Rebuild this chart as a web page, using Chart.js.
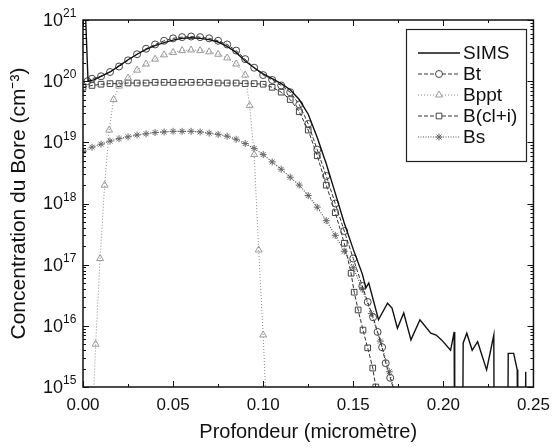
<!DOCTYPE html>
<html>
<head>
<meta charset="utf-8">
<script src="https://cdn.jsdelivr.net/npm/chart.js@4.4.0/dist/chart.umd.min.js"></script>
<style>
html, body { margin: 0; padding: 0; background: #fff; }
</style>
</head>
<body>
<canvas id="boreChart" width="558" height="448"></canvas>
<script>
// profondeur en micrometre, concentration en log10 (cm-3)
var simsDepth = [0.0015, 0.0028, 0.006, 0.01, 0.015, 0.02, 0.025, 0.03, 0.035, 0.04, 0.045, 0.05, 0.055, 0.06, 0.065, 0.07, 0.075, 0.08, 0.085, 0.09, 0.095, 0.1, 0.105, 0.11, 0.115, 0.12, 0.125, 0.13, 0.135, 0.14, 0.145, 0.15, 0.155, 0.157, 0.1586, 0.164, 0.169, 0.1715, 0.1745, 0.178, 0.182, 0.187, 0.193, 0.196, 0.199, 0.204, 0.206, 0.2063, 0.2105, 0.211, 0.213, 0.216, 0.219, 0.224, 0.228, 0.2283, 0.2355, 0.236, 0.239, 0.241, 0.2413, 0.2453, 0.2457, 0.246];
var simsLog = [21.0, 20.0, 20.02, 20.08, 20.15, 20.25, 20.35, 20.44, 20.52, 20.58, 20.63, 20.67, 20.7, 20.71, 20.7, 20.68, 20.64, 20.57, 20.47, 20.33, 20.22, 20.12, 20.04, 19.96, 19.86, 19.7, 19.46, 19.08, 18.65, 18.17, 17.68, 17.25, 16.85, 16.62, 16.7, 16.1, 16.37, 16.29, 15.96, 16.21, 15.77, 16.1, 15.88, 15.85, 15.77, 15.6, 15.9, 13, 13, 15.72, 15.88, 15.6, 15.74, 15.28, 15.85, 13, 13, 15.55, 15.55, 15.28, 13, 13, 15.25, 13];

var btDepth = [0.0025, 0.005, 0.01, 0.015, 0.02, 0.025, 0.03, 0.035, 0.04, 0.045, 0.05, 0.055, 0.06, 0.065, 0.07, 0.075, 0.08, 0.085, 0.09, 0.095, 0.1, 0.105, 0.11, 0.115, 0.12, 0.125, 0.13, 0.135, 0.14, 0.145, 0.15, 0.155, 0.158, 0.161, 0.1635, 0.166, 0.168, 0.1705, 0.173];
var btLog = [20.0, 20.04, 20.08, 20.15, 20.24, 20.34, 20.44, 20.53, 20.6, 20.66, 20.7, 20.72, 20.73, 20.72, 20.7, 20.66, 20.6, 20.5, 20.36, 20.22, 20.1, 20.02, 19.93, 19.82, 19.62, 19.3, 18.88, 18.45, 18.0, 17.55, 17.1, 16.65, 16.39, 16.14, 15.9, 15.65, 15.39, 15.15, 14.9];

var bpptDepth = [0.0055, 0.007, 0.0095, 0.012, 0.0145, 0.017, 0.02, 0.025, 0.03, 0.035, 0.04, 0.045, 0.05, 0.055, 0.06, 0.065, 0.07, 0.075, 0.08, 0.085, 0.09, 0.0925, 0.095, 0.0975, 0.1, 0.1015];
var bpptLog = [14.6, 15.7, 17.1, 18.3, 19.2, 19.7, 19.92, 20.05, 20.18, 20.28, 20.36, 20.43, 20.47, 20.5, 20.51, 20.5, 20.48, 20.44, 20.38, 20.28, 20.1, 19.6, 18.8, 17.24, 15.85, 14.8];

var bclDepth = [0, 0.005, 0.01, 0.015, 0.02, 0.025, 0.03, 0.035, 0.04, 0.045, 0.05, 0.055, 0.06, 0.065, 0.07, 0.075, 0.08, 0.085, 0.09, 0.095, 0.1, 0.105, 0.11, 0.115, 0.12, 0.125, 0.13, 0.135, 0.14, 0.145, 0.1488, 0.1505, 0.1527, 0.1554, 0.158, 0.1608, 0.1625, 0.164];
var bclLog = [19.9, 19.93, 19.95, 19.96, 19.96, 19.97, 19.97, 19.97, 19.98, 19.98, 19.98, 19.98, 19.98, 19.98, 19.98, 19.97, 19.97, 19.97, 19.96, 19.96, 19.95, 19.9, 19.82, 19.7, 19.5, 19.2, 18.78, 18.3, 17.85, 17.35, 16.86, 16.55, 16.26, 15.93, 15.64, 15.31, 15.0, 14.7];

var bsDepth = [0, 0.005, 0.01, 0.015, 0.02, 0.025, 0.03, 0.035, 0.04, 0.045, 0.05, 0.055, 0.06, 0.065, 0.07, 0.075, 0.08, 0.085, 0.09, 0.095, 0.1, 0.105, 0.11, 0.115, 0.12, 0.125, 0.13, 0.135, 0.14, 0.145, 0.15, 0.155, 0.16, 0.165, 0.17, 0.175];
var bsLog = [18.85, 18.92, 18.97, 19.02, 19.06, 19.09, 19.12, 19.14, 19.16, 19.17, 19.18, 19.18, 19.18, 19.17, 19.15, 19.13, 19.1, 19.05, 18.98, 18.9, 18.8, 18.68, 18.56, 18.43, 18.3, 18.13, 17.94, 17.72, 17.48, 17.22, 16.95, 16.6, 16.2, 15.75, 15.25, 14.7];

var xTickValues = [0, 0.05, 0.1, 0.15, 0.2, 0.25];
var xMinorValues = [0.025, 0.075, 0.125, 0.175, 0.225];
var yDecades = [15, 16, 17, 18, 19, 20, 21];

var FONT = '"Liberation Sans", Arial, Helvetica, sans-serif';

function toPoints(depths, logs) {
	return depths.map(function(d, i) { return { x: d, y: Math.pow(10, logs[i]) }; });
}

// petits traits vers l'interieur sur les 4 cotes + cadre
var innerTicks = {
	id: 'innerTicks',
	afterDraw: function(chart) {
		var a = chart.chartArea, xs = chart.scales.x, ys = chart.scales.y, ctx = chart.ctx;
		ctx.save();
		ctx.strokeStyle = '#111';
		ctx.lineWidth = 1;
		ctx.beginPath();
		function xt(v, len) {
			var px = Math.round(xs.getPixelForValue(v)) + 0.5;
			ctx.moveTo(px, a.bottom); ctx.lineTo(px, a.bottom - len);
			ctx.moveTo(px, a.top); ctx.lineTo(px, a.top + len);
		}
		function yt(v, len) {
			var py = Math.round(ys.getPixelForValue(v)) + 0.5;
			ctx.moveTo(a.left, py); ctx.lineTo(a.left + len, py);
			ctx.moveTo(a.right, py); ctx.lineTo(a.right - len, py);
		}
		xTickValues.forEach(function(v) { xt(v, 6); });
		xMinorValues.forEach(function(v) { xt(v, 3); });
		yDecades.forEach(function(e, i) {
			yt(Math.pow(10, e), 6);
			if (i < yDecades.length - 1) {
				for (var m = 2; m < 10; m++) yt(m * Math.pow(10, e), 3);
			}
		});
		ctx.stroke();
		ctx.lineWidth = 1.5;
		ctx.strokeRect(a.left, a.top, a.right - a.left, a.bottom - a.top);
		ctx.restore();
	}
};

// etiquettes 10^n de l'axe y, exposant en petit
var powerLabels = {
	id: 'powerLabels',
	afterDraw: function(chart) {
		var ys = chart.scales.y, ctx = chart.ctx, a = chart.chartArea;
		ctx.save();
		ctx.fillStyle = '#111';
		ys.ticks.forEach(function(t) {
			var py = ys.getPixelForValue(t.value);
			var ex = Math.round(Math.log10(t.value));
			ctx.font = '18px ' + FONT;
			ctx.textAlign = 'right';
			ctx.textBaseline = 'middle';
			ctx.fillText('10', a.left - 20, py + 1);
			ctx.font = '12px ' + FONT;
			ctx.textAlign = 'left';
			ctx.fillText(String(ex), a.left - 20, py - 6);
		});
		ctx.restore();
	}
};

var legendBox = {
	id: 'legendBox',
	afterDraw: function(chart) {
		var ctx = chart.ctx;
		ctx.save();
		ctx.fillStyle = '#fff';
		ctx.fillRect(406, 29, 120, 132);
		ctx.strokeStyle = '#222';
		ctx.lineWidth = 1.2;
		ctx.strokeRect(406.5, 29.5, 120, 132);
		chart.data.datasets.forEach(function(ds, i) {
			var y = 53 + i * 21;
			ctx.strokeStyle = ds.borderColor;
			ctx.lineWidth = ds.borderWidth;
			ctx.setLineDash(ds.borderDash || []);
			ctx.beginPath();
			ctx.moveTo(418, y); ctx.lineTo(460, y);
			ctx.stroke();
			ctx.setLineDash([]);
			if (ds.pointRadius > 0) {
				ctx.fillStyle = '#fff';
				ctx.strokeStyle = ds.pointBorderColor;
				ctx.lineWidth = ds.pointBorderWidth;
				if (Chart.helpers && Chart.helpers.drawPoint) {
					Chart.helpers.drawPoint(ctx, { pointStyle: ds.pointStyle, radius: ds.pointRadius, rotation: 0, borderWidth: ds.pointBorderWidth }, 439, y);
				} else {
					ctx.beginPath(); ctx.arc(439, y, ds.pointRadius, 0, Math.PI * 2); ctx.fill(); ctx.stroke();
				}
			}
			ctx.fillStyle = '#111';
			ctx.font = '19px ' + FONT;
			ctx.textAlign = 'left';
			ctx.textBaseline = 'middle';
			ctx.fillText(ds.label, 463, y + 1);
		});
		ctx.restore();
	}
};

var ctx = document.getElementById('boreChart');
var boreChart = new Chart(ctx, {
	type: 'line',
	data: {
		datasets: [
			{
				label: 'SIMS',
				data: toPoints(simsDepth, simsLog),
				borderColor: '#111',
				borderWidth: 1.4,
				pointRadius: 0
			},
			{
				label: 'Bt',
				data: toPoints(btDepth, btLog),
				borderColor: '#333',
				borderWidth: 1,
				borderDash: [4, 2],
				pointStyle: 'circle',
				pointRadius: 3.5,
				pointBorderColor: '#444',
				pointBorderWidth: 1,
				pointBackgroundColor: 'rgba(0,0,0,0)'
			},
			{
				label: 'Bppt',
				data: toPoints(bpptDepth, bpptLog),
				borderColor: '#888',
				borderWidth: 1,
				borderDash: [1, 2],
				pointStyle: 'triangle',
				pointRadius: 4,
				pointBorderColor: '#999',
				pointBorderWidth: 1,
				pointBackgroundColor: 'rgba(0,0,0,0)'
			},
			{
				label: 'B(cl+i)',
				data: toPoints(bclDepth, bclLog),
				borderColor: '#333',
				borderWidth: 1,
				borderDash: [4, 2],
				pointStyle: 'rect',
				pointRadius: 4,
				pointBorderColor: '#444',
				pointBorderWidth: 1,
				pointBackgroundColor: 'rgba(0,0,0,0)'
			},
			{
				label: 'Bs',
				data: toPoints(bsDepth, bsLog),
				borderColor: '#555',
				borderWidth: 1.2,
				borderDash: [1, 1.5],
				pointStyle: 'star',
				pointRadius: 3.5,
				pointBorderColor: '#666',
				pointBorderWidth: 1,
				pointBackgroundColor: 'rgba(0,0,0,0)'
			}
		]
	},
	options: {
		responsive: false,
		animation: false,
		devicePixelRatio: 1,
		layout: { padding: { left: 0, right: 18, top: 20, bottom: 0 } },
		plugins: { legend: { display: false }, tooltip: { enabled: false } },
		elements: { line: { tension: 0 } },
		scales: {
			x: {
				type: 'linear',
				min: 0,
				max: 0.25,
				grid: { display: false, drawTicks: false },
				border: { display: false },
				afterBuildTicks: function(scale) {
					scale.ticks = xTickValues.map(function(v) { return { value: v }; });
				},
				afterFit: function(scale) { scale.height = 61; },
				ticks: {
					padding: 8,
					color: '#111',
					font: { family: FONT, size: 17 },
					maxRotation: 0,
					callback: function(v) { return Number(v).toFixed(2); }
				},
				title: {
					display: true,
					text: 'Profondeur (micromètre)',
					color: '#111',
					font: { family: FONT, size: 20 },
					padding: { top: 4, bottom: 4 }
				}
			},
			y: {
				type: 'logarithmic',
				min: 1e15,
				max: 1e21,
				grid: { display: false, drawTicks: false },
				border: { display: false },
				afterBuildTicks: function(scale) {
					scale.ticks = yDecades.map(function(e) { return { value: Math.pow(10, e), major: true }; });
				},
				afterFit: function(scale) { scale.width = 83; },
				ticks: { display: false },
				title: {
					display: true,
					text: 'Concentration du Bore (cm\u207b\u00b3)',
					color: '#111',
					font: { family: FONT, size: 21 },
					padding: { top: 7, bottom: 4 }
				}
			}
		}
	},
	plugins: [innerTicks, powerLabels, legendBox]
});
</script>
</body>
</html>
